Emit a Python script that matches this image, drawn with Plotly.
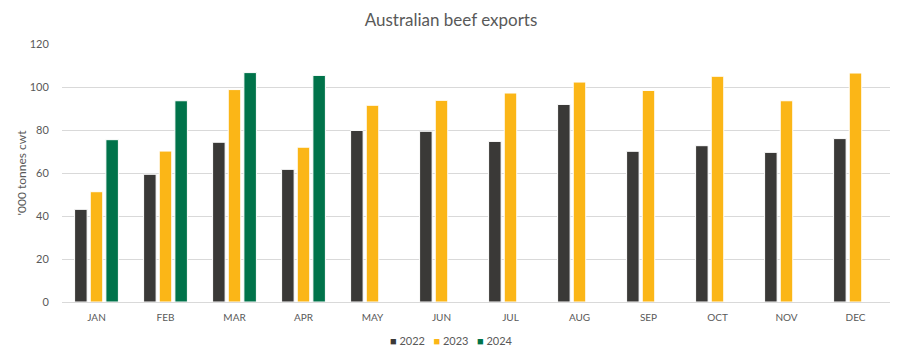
import plotly.graph_objects as go

months = ["JAN", "FEB", "MAR", "APR", "MAY", "JUN", "JUL", "AUG", "SEP", "OCT", "NOV", "DEC"]
exports_2022 = [43.1, 59.4, 74.3, 61.7, 79.8, 79.4, 74.7, 91.9, 70.1, 72.7, 69.6, 76.0]
exports_2023 = [51.3, 70.2, 98.8, 72.0, 91.5, 93.8, 97.2, 102.3, 98.4, 105.0, 93.6, 106.5]
exports_2024 = [75.5, 93.6, 106.7, 105.4, None, None, None, None, None, None, None, None]
y_ticks = [0, 20, 40, 60, 80, 100, 120]

series = [
    ("2022", exports_2022, "#3a3937"),
    ("2023", exports_2023, "#fbb617"),
    ("2024", exports_2024, "#00734a"),
]

fig = go.Figure()
for name, vals, color in series:
    fig.add_trace(go.Bar(
        x=months, y=vals, name=name, showlegend=False,
        marker=dict(color=color, line=dict(color="white", width=1)),
    ))

# compact legend as real text (coloured squares + series names)
legend_text = "&nbsp;&nbsp;&nbsp;".join(
    f"<span style='color:{c}'>■</span> {n}" for n, _, c in series
)
fig.add_annotation(text=legend_text, xref="paper", yref="paper", x=0.47, y=-0.148,
                   xanchor="center", yanchor="middle", showarrow=False,
                   font=dict(size=11, color="#595959"))

font_family = "Lato, 'Open Sans', sans-serif"
fig.update_layout(
    width=902, height=358,
    margin=dict(l=62, r=12, t=44, b=56),
    paper_bgcolor="white", plot_bgcolor="white",
    barmode="group", bargap=0.32, bargroupgap=0.2,
    font=dict(family=font_family, color="#595959", size=11),
    title=dict(text="Australian beef exports", x=0.5, xanchor="center",
               y=0.945, yanchor="middle", font=dict(size=17, color="#595959")),
    xaxis=dict(showgrid=False, showline=True, linecolor="#d9d9d9", linewidth=1,
               ticks="outside", ticklen=6, tickcolor="rgba(0,0,0,0)",
               tickfont=dict(size=10, color="#595959"), automargin=False),
    yaxis=dict(range=[0, 120], tickvals=y_ticks, showgrid=True, gridcolor="#d9d9d9",
               gridwidth=1, zeroline=False, ticks="outside", ticklen=10,
               tickcolor="rgba(0,0,0,0)", automargin=False,
               tickfont=dict(size=11, color="#595959"),
               title=dict(text="'000 tonnes cwt", font=dict(size=12, color="#595959"), standoff=0)),
)

fig.write_html("out.html", config={"displayModeBar": False},
               post_script="document.body.style.margin='0';")
